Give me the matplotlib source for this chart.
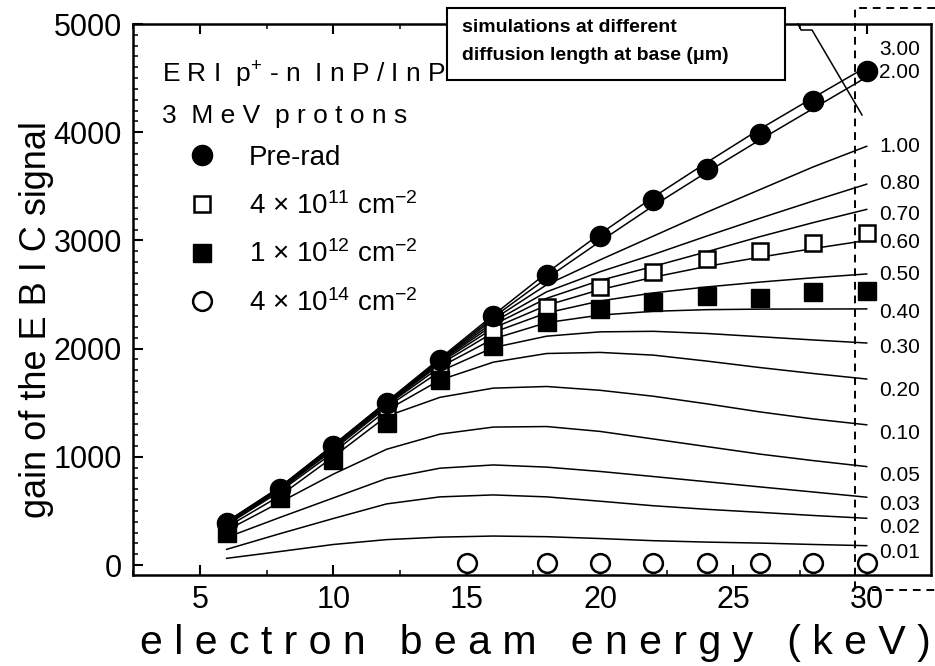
import matplotlib
matplotlib.use("Agg")
import matplotlib.pyplot as plt
from matplotlib.lines import Line2D
from matplotlib.patches import Rectangle
from matplotlib.ticker import MultipleLocator

plt.rcParams["font.family"] = ["Liberation Sans", "DejaVu Sans"]
plt.rcParams["mathtext.fontset"] = "custom"
plt.rcParams["mathtext.rm"] = "Liberation Sans"
plt.rcParams["mathtext.default"] = "rm"

W, H = 935, 666  # figure size in pixels

# measured EBIC gain
energy = [6, 8, 10, 12, 14, 16, 18, 20, 22, 24, 26, 28, 30]
gain_prerad = [386, 704, 1096, 1500, 1898, 2299, 2685, 3037, 3373, 3664, 3987, 4290, 4568]
gain_4e11 = [340, 665, 1040, 1420, 1805, 2157, 2389, 2565, 2710, 2824, 2901, 2978, 3065]
gain_1e12 = [296, 620, 972, 1315, 1713, 2021, 2244, 2370, 2429, 2484, 2469, 2525, 2531]
energy_4e14 = [15, 18, 20, 22, 24, 26, 28, 30]
gain_4e14 = [15, 15, 15, 15, 15, 15, 15, 15]

# simulations, diffusion length at base (um)
sim_labels = ["3.00", "2.00", "1.00", "0.80", "0.70", "0.60", "0.50", "0.40",
              "0.30", "0.20", "0.10", "0.05", "0.03", "0.02", "0.01"]
sim_gain = [
    [400, 722, 1110, 1510, 1910, 2310, 2700, 3060, 3400, 3720, 4030, 4320, 4605],
    [398, 718, 1105, 1503, 1900, 2290, 2650, 2990, 3320, 3630, 3930, 4220, 4510],
    [396, 715, 1102, 1498, 1893, 2270, 2590, 2820, 3040, 3260, 3470, 3680, 3870],
    [394, 712, 1099, 1495, 1887, 2245, 2525, 2710, 2870, 3040, 3205, 3365, 3520],
    [392, 710, 1096, 1492, 1880, 2220, 2465, 2630, 2760, 2895, 3035, 3165, 3287],
    [390, 707, 1092, 1488, 1870, 2190, 2400, 2545, 2660, 2760, 2845, 2925, 3000],
    [388, 704, 1088, 1483, 1855, 2150, 2330, 2440, 2515, 2570, 2615, 2655, 2690],
    [385, 700, 1080, 1475, 1830, 2090, 2240, 2310, 2345, 2360, 2365, 2366, 2367],
    [380, 692, 1065, 1460, 1790, 2010, 2115, 2155, 2160, 2140, 2110, 2080, 2052],
    [370, 680, 1040, 1430, 1710, 1875, 1955, 1965, 1940, 1885, 1825, 1770, 1719],
    [350, 640, 1000, 1375, 1550, 1635, 1650, 1615, 1560, 1490, 1415, 1350, 1296],
    [320, 580, 840, 1070, 1210, 1275, 1280, 1235, 1165, 1095, 1025, 965, 910],
    [255, 440, 620, 800, 895, 925, 905, 865, 818, 770, 722, 675, 627],
    [145, 290, 430, 565, 630, 648, 630, 590, 548, 515, 487, 458, 432],
    [62, 125, 190, 235, 258, 268, 262, 245, 225, 212, 203, 190, 179],
]
# where the curve labels sit (data units)
label_x = 30.46
label_y = [4760, 4556, 3872, 3530, 3235, 2985, 2689, 2338, 2015, 1617,
           1220, 823, 564, 351, 120]

fig = plt.figure(figsize=(W / 100, H / 100), dpi=100)
ax = fig.add_axes([133 / W, 1 - 575 / H, (931 - 133) / W, (575 - 24) / H])


def fig_xy(px, py):
    """pixel position -> figure fraction"""
    return px / W, 1 - py / H


for gain in sim_gain:
    ax.plot(energy, gain, color="black", lw=1.1, zorder=2)

for lbl, y in zip(sim_labels, label_y):
    ax.text(label_x, y, lbl, fontsize=15, ha="left", va="center")

h_pre, = ax.plot(energy, gain_prerad, ls="none", marker="o", ms=14.5,
                 mfc="black", mec="black", zorder=5, label="Pre-rad")
h_4e11, = ax.plot(energy, gain_4e11, ls="none", marker="s", ms=11.5,
                  mfc="white", mec="black", mew=1.8, zorder=3,
                  label=r"4 × 10$^{11}$ cm$^{-2}$")
h_1e12, = ax.plot(energy, gain_1e12, ls="none", marker="s", ms=13,
                  mfc="black", mec="black", zorder=4,
                  label=r"1 × 10$^{12}$ cm$^{-2}$")
h_4e14, = ax.plot(energy_4e14, gain_4e14, ls="none", marker="o", ms=13.5,
                  mfc="white", mec="black", mew=1.8, zorder=3,
                  label=r"4 × 10$^{14}$ cm$^{-2}$")

ax.set_xlim(2.49, 32.41)
ax.set_ylim(-92, 5000)
ax.xaxis.set_major_locator(MultipleLocator(5))
ax.xaxis.set_minor_locator(MultipleLocator(2.5))
ax.yaxis.set_major_locator(MultipleLocator(1000))
ax.yaxis.set_minor_locator(MultipleLocator(100))
ax.set_xticks([5, 10, 15, 20, 25, 30])
ax.tick_params(which="both", direction="in", top=True, right=False,
               labelsize=22)
ax.tick_params(which="major", length=7.2, width=1.5)
ax.tick_params(which="minor", length=3.6, width=1.1)
ax.tick_params(axis="x", pad=7)
ax.tick_params(axis="y", pad=8)
for sp in ax.spines.values():
    sp.set_linewidth(1.8)

leg = ax.legend(handles=[h_pre, h_4e11, h_1e12, h_4e14], loc="upper left",
                bbox_to_anchor=fig_xy(188, 145), bbox_transform=fig.transFigure,
                frameon=False, fontsize=20, handlelength=1.0,
                handletextpad=1.2, labelspacing=0.75, borderpad=0,
                borderaxespad=0)

fig.text(*fig_xy(162, 82), r"E R I  p$^{+}$ - n  I n P / I n P", fontsize=19,
         ha="left", va="baseline")
fig.text(*fig_xy(162, 123), "3  M e V  p r o t o n s", fontsize=19,
         ha="left", va="baseline")

fig.text(*fig_xy(37, 320), "gain of the E B I C signal",
         fontsize=26, rotation=90, ha="center", va="center")
fig.text(*fig_xy(535, 643), "e l e c t r o n   b e a m   e n e r g y   ( k e V )",
         fontsize=29.5, ha="center", va="center")

# box naming the simulated curves, with its leader line
box = Rectangle(fig_xy(447, 80), 338 / W, 72 / H, transform=fig.transFigure,
                facecolor="white", edgecolor="black", lw=1.5, zorder=10)
fig.add_artist(box)
fig.text(*fig_xy(462, 28), "simulations at different", fontsize=14,
         fontweight="bold", ha="left", va="center", zorder=11)
fig.text(*fig_xy(462, 56), "diffusion length at base (μm)", fontsize=14,
         fontweight="bold", ha="left", va="center", zorder=11)
lead = [fig_xy(798, 24), fig_xy(801, 30), fig_xy(812, 30), fig_xy(862, 115)]
fig.add_artist(Line2D([p[0] for p in lead], [p[1] for p in lead],
                      transform=fig.transFigure, color="black", lw=1.1))

# dashed frame around the 30 keV column
frame = [fig_xy(935, 8), fig_xy(855, 8), fig_xy(855, 598)]
fig.add_artist(Line2D([p[0] for p in frame], [p[1] for p in frame],
                      transform=fig.transFigure, color="black", lw=1.4,
                      ls=(0, (4, 3))))
bottom = [fig_xy(872, 590), fig_xy(935, 590)]
fig.add_artist(Line2D([p[0] for p in bottom], [p[1] for p in bottom],
                      transform=fig.transFigure, color="black", lw=1.4,
                      ls=(0, (4, 3))))

fig.savefig("out.png", dpi=100)
